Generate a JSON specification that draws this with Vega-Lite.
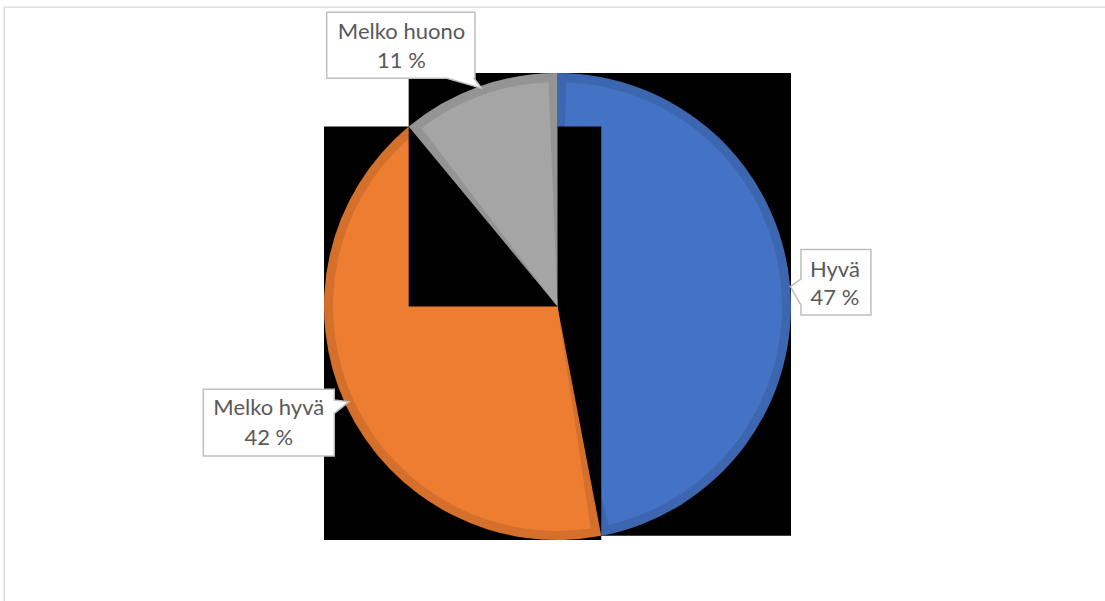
{
  "$schema": "https://vega.github.io/schema/vega-lite/v6.json",
  "autosize": "none",
  "width": 1103,
  "height": 596,
  "padding": {"left": 4, "top": 7, "right": 0, "bottom": 0},
  "background": "white",
  "config": {"view": {"stroke": "#d9d9d9", "strokeWidth": 1.3}},
  "data": {
    "values": [
      {"vastaus": "Hyvä", "osuus": 47},
      {"vastaus": "Melko hyvä", "osuus": 42},
      {"vastaus": "Melko huono", "osuus": 11}
    ]
  },
  "transform": [
    {"joinaggregate": [{"op": "sum", "field": "osuus", "as": "yht"}]},
    {"window": [{"op": "sum", "field": "osuus", "as": "kum"}], "frame": [null, 0]},
    {"calculate": "2*PI*(datum.kum - datum.osuus)/datum.yht", "as": "a0"},
    {"calculate": "2*PI*datum.kum/datum.yht", "as": "a1"},
    {"calculate": "(datum.a0 + datum.a1)/2", "as": "am"},
    {"calculate": "min(0, sin(datum.a0), sin(datum.a1), (datum.a0 <= 1.5*PI && datum.a1 >= 1.5*PI) ? -1 : 0)", "as": "bx0"},
    {"calculate": "max(0, sin(datum.a0), sin(datum.a1), (datum.a0 <= 0.5*PI && datum.a1 >= 0.5*PI) ? 1 : 0)", "as": "bx1"},
    {"calculate": "min(0, cos(datum.a0), cos(datum.a1), (datum.a0 <= PI && datum.a1 >= PI) ? -1 : 0)", "as": "by0"},
    {"calculate": "max(0, cos(datum.a0), cos(datum.a1))", "as": "by1"},
    {"calculate": "1.2*sin(datum.am)", "as": "lx"},
    {"calculate": "1.2*cos(datum.am)", "as": "ly"},
    {"calculate": "datum.vastaus + '\\n' + datum.osuus + ' %'", "as": "teksti"}
  ],
  "layer": [
    {
      "transform": [{"filter": "datum.vastaus == 'Hyvä'"}],
      "layer": [
        {
          "mark": {"type": "rect", "color": "black"},
          "encoding": {
            "x": {"field": "bx0", "type": "quantitative", "scale": {"domain": [-1, 1], "range": [320, 787], "nice": false, "zero": false}, "axis": null},
            "x2": {"field": "bx1"},
            "y": {"field": "by0", "type": "quantitative", "scale": {"domain": [-1, 1], "range": [533, 66], "nice": false, "zero": false}, "axis": null},
            "y2": {"field": "by1"}
          }
        },
        {
          "mark": {"type": "arc", "outerRadius": 233.5, "color": "#3C66B0"},
          "encoding": {
            "theta": {"field": "a0", "type": "quantitative", "scale": null},
            "theta2": {"field": "a1"},
            "x": {"datum": 0, "type": "quantitative"},
            "y": {"datum": 0, "type": "quantitative"}
          }
        },
        {
          "mark": {"type": "arc", "outerRadius": 224.5, "padAngle": 0.08, "color": "#4472C4"},
          "encoding": {
            "theta": {"field": "a0", "type": "quantitative", "scale": null},
            "theta2": {"field": "a1"},
            "x": {"datum": 0, "type": "quantitative"},
            "y": {"datum": 0, "type": "quantitative"}
          }
        }
      ]
    },
    {
      "transform": [{"filter": "datum.vastaus == 'Melko hyvä'"}],
      "layer": [
        {
          "mark": {"type": "rect", "color": "black"},
          "encoding": {
            "x": {"field": "bx0", "type": "quantitative"},
            "x2": {"field": "bx1"},
            "y": {"field": "by0", "type": "quantitative"},
            "y2": {"field": "by1"}
          }
        },
        {
          "mark": {"type": "arc", "outerRadius": 233.5, "color": "#D4702C"},
          "encoding": {
            "theta": {"field": "a0", "type": "quantitative", "scale": null},
            "theta2": {"field": "a1"},
            "x": {"datum": 0, "type": "quantitative"},
            "y": {"datum": 0, "type": "quantitative"}
          }
        },
        {
          "mark": {"type": "arc", "outerRadius": 224.5, "padAngle": 0.08, "color": "#ED7D31"},
          "encoding": {
            "theta": {"field": "a0", "type": "quantitative", "scale": null},
            "theta2": {"field": "a1"},
            "x": {"datum": 0, "type": "quantitative"},
            "y": {"datum": 0, "type": "quantitative"}
          }
        }
      ]
    },
    {
      "transform": [{"filter": "datum.vastaus == 'Melko huono'"}],
      "layer": [
        {
          "mark": {"type": "rect", "color": "black"},
          "encoding": {
            "x": {"field": "bx0", "type": "quantitative"},
            "x2": {"field": "bx1"},
            "y": {"field": "by0", "type": "quantitative"},
            "y2": {"field": "by1"}
          }
        },
        {
          "mark": {"type": "arc", "outerRadius": 233.5, "color": "#949494"},
          "encoding": {
            "theta": {"field": "a0", "type": "quantitative", "scale": null},
            "theta2": {"field": "a1"},
            "x": {"datum": 0, "type": "quantitative"},
            "y": {"datum": 0, "type": "quantitative"}
          }
        },
        {
          "mark": {"type": "arc", "outerRadius": 224.5, "padAngle": 0.08, "color": "#A5A5A5"},
          "encoding": {
            "theta": {"field": "a0", "type": "quantitative", "scale": null},
            "theta2": {"field": "a1"},
            "x": {"datum": 0, "type": "quantitative"},
            "y": {"datum": 0, "type": "quantitative"}
          }
        }
      ]
    },
    {
      "transform": [{"filter": "datum.vastaus == 'Hyvä'"}],
      "layer": [
        {
          "mark": {"type": "point", "shape": "M-0.355,-0.306H0.345V0.349H-0.355V0.249L-0.46,0.064L-0.355,-0.011Z", "size": 40000, "filled": true, "fill": "white", "stroke": "#bfbfbf", "strokeWidth": 1.5, "opacity": 1},
          "encoding": {
            "x": {"field": "lx", "type": "quantitative"},
            "y": {"field": "ly", "type": "quantitative"}
          }
        },
        {
          "mark": {"type": "text", "font": "Lato", "fontSize": 22, "color": "#595959", "align": "center", "baseline": "alphabetic", "lineBreak": "\n", "lineHeight": 28.5, "dx": -1.5, "dy": -3.4},
          "encoding": {
            "x": {"field": "lx", "type": "quantitative"},
            "y": {"field": "ly", "type": "quantitative"},
            "text": {"field": "teksti"}
          }
        }
      ]
    },
    {
      "transform": [{"filter": "datum.vastaus == 'Melko hyvä'"}],
      "layer": [
        {
          "mark": {"type": "point", "shape": "M-1.007,-0.365H0.303V-0.258L0.45,-0.241L0.303,-0.125V0.302H-1.007Z", "size": 40000, "filled": true, "fill": "white", "stroke": "#bfbfbf", "strokeWidth": 1.5, "opacity": 1},
          "encoding": {
            "x": {"field": "lx", "type": "quantitative"},
            "y": {"field": "ly", "type": "quantitative"}
          }
        },
        {
          "mark": {"type": "text", "font": "Lato", "fontSize": 22, "color": "#595959", "align": "center", "baseline": "alphabetic", "lineBreak": "\n", "lineHeight": 30, "dx": -35.2, "dy": -10.8},
          "encoding": {
            "x": {"field": "lx", "type": "quantitative"},
            "y": {"field": "ly", "type": "quantitative"},
            "text": {"field": "teksti"}
          }
        }
      ]
    },
    {
      "transform": [{"filter": "datum.vastaus == 'Melko huono'"}],
      "layer": [
        {
          "mark": {"type": "point", "shape": "M-1.359,-0.306H0.124V0.354H0.114L0.19,0.454L-0.156,0.354H-1.359Z", "size": 40000, "filled": true, "fill": "white", "stroke": "#bfbfbf", "strokeWidth": 1.5, "opacity": 1},
          "encoding": {
            "x": {"field": "lx", "type": "quantitative"},
            "y": {"field": "ly", "type": "quantitative"}
          }
        },
        {
          "mark": {"type": "text", "font": "Lato", "fontSize": 22, "color": "#595959", "align": "center", "baseline": "alphabetic", "lineBreak": "\n", "lineHeight": 29, "dx": -61.1, "dy": -3.6},
          "encoding": {
            "x": {"field": "lx", "type": "quantitative"},
            "y": {"field": "ly", "type": "quantitative"},
            "text": {"field": "teksti"}
          }
        }
      ]
    }
  ]
}
